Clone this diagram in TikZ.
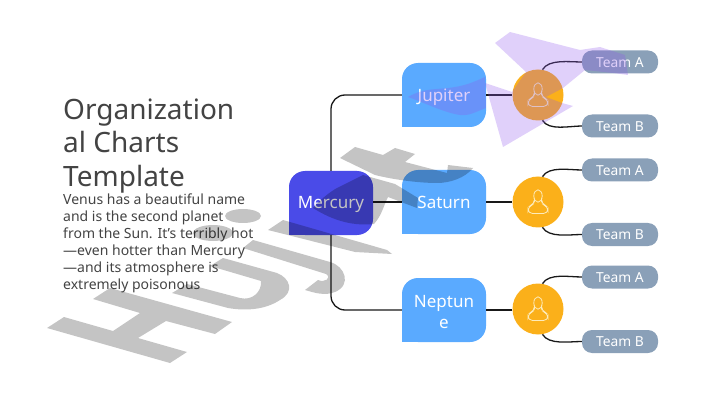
\documentclass[tikz,border=0pt]{standalone}
\usepackage{fontspec}
\setmainfont{Noto Sans}
\definecolor{txt}{HTML}{434343}
\definecolor{merc}{HTML}{4A4BE8}
\definecolor{planet}{HTML}{5AAAFF}
\definecolor{sun}{HTML}{FBB01A}
\definecolor{team}{HTML}{8AA0B8}
\definecolor{iconc}{HTML}{FDEBBB}
\definecolor{wmpurple}{RGB}{144,87,237}
\newcommand\lowered[2]{\raisebox{-#1pt}[0pt][0pt]{#2}}
\tikzset{
  box/.style={rectangle,rounded corners=16pt,minimum width=84pt,minimum height=64pt,inner sep=0pt,text=white,align=center,font=\fontsize{17}{21}\selectfont},
  topbox/.style={box,fill=merc},
  planetbox/.style={box,fill=planet},
  hub/.style={circle,fill=sun,minimum size=51pt,inner sep=0pt},
  teambox/.style={rectangle,rounded corners=10pt,fill=team,minimum width=76pt,minimum height=23pt,inner sep=0pt,text=white,font=\fontsize{13.8}{15}\selectfont},
  link/.style={line width=1.3pt,draw=black!90},
  usericon/.style={draw=iconc,line width=.8pt},
  grayink/.style={fill=black,fill opacity=.23},
  purpleink/.style={fill=wmpurple,fill opacity=.28}
}
\begin{document}
\begin{tikzpicture}[x=1pt,y=-1pt]
\useasboundingbox (0,0) rectangle (720,406);
\node[anchor=north west,inner sep=0pt,text=txt,align=left,font=\fontsize{28}{33.5}\selectfont] (title) at (63,98.5) {Organization\\al Charts\\Template};
\node[anchor=north west,inner sep=0pt,text=txt,align=left,font=\fontsize{14}{17}\selectfont] (body) at (63,194) {Venus has a beautiful name\\and is the second planet\\from the Sun. It’s terribly hot\\—even hotter than Mercury\\—and its atmosphere is\\extremely poisonous};
% boxes
\node[topbox] (m) at (331,203) {\lowered{6}{Mercury}};
\fill[merc] (m.south west) rectangle ++(16,-16);
\node[planetbox] (j) at (444,95) {\lowered{6.8}{Jupiter}};
\fill[planet] (j.south west) rectangle ++(16,-16);
\node[planetbox] (s) at (444,202) {\lowered{7}{Saturn}};
\fill[planet] (s.south west) rectangle ++(16,-16);
\node[planetbox] (n) at (444,310) {\rule{0pt}{16pt}Neptun\\e};
\fill[planet] (n.south west) rectangle ++(16,-16);
% hubs
\node[hub] (c1) at (538,95) {};
\node[hub] (c2) at (538,202) {};
\node[hub] (c3) at (538,309) {};
\foreach \c in {c1,c2,c3}{
  \begin{scope}[shift={(\c)}]
    \draw[usericon] (0,-6) ellipse (4.2 and 6.2);
    \draw[usericon,rounded corners=4.5pt] (-3.5,0.5) -- (-3.5,2) -- (-10,4.5) -- (-10,11.5) -- (10,11.5) -- (10,4.5) -- (3.5,2) -- (3.5,0.5);
  \end{scope}
}
% teams
\node[teambox] (a1) at (620,62) {\lowered{5.3}{Team A}};
\node[teambox] (b1) at (620,126) {\lowered{5.3}{Team B}};
\node[teambox] (a2) at (620,170) {\lowered{5.3}{Team A}};
\node[teambox] (b2) at (620,234.5) {\lowered{5.3}{Team B}};
\node[teambox] (a3) at (620,277) {\lowered{5.3}{Team A}};
\node[teambox] (b3) at (620,341.5) {\lowered{5.3}{Team B}};
% connectors
\draw[link,rounded corners=14pt] (m.north) |- (j.west);
\draw[link,rounded corners=14pt] (m.south) |- (n.west);
\draw[link] (m.east |- s.west) -- (s.west);
\draw[link] (j.east) -- (c1.west);
\draw[link] (s.east) -- (c2.west);
\draw[link] (n.east -| c3.west) -- (n.east);
\foreach \c/\ta/\tb in {c1/a1/b1,c2/a2/b2,c3/a3/b3}{
  \draw[link] (\c.80) to[out=60,in=180,looseness=.8] (\ta.west);
  \draw[link] (\c.-80) to[out=-60,in=180,looseness=.8] (\tb.west);
}
% watermark, gray
\fill[grayink]
  (93,299) -- (110,288) -- (232,322) -- (215,334) -- (166,321) -- (138,338) -- (187,352) -- (170,363) -- (47,328) -- (64,317) -- (113,331) -- (140,313) -- cycle
  (172,293) -- (187,284) -- (240,298) .. controls (252,301) and (262,292) .. (261,281) -- (210,266) -- (223,258) -- (277,273) .. controls (290,278) and (295,292) .. (280,300) .. controls (265,310) and (245,311) .. (228,308) -- cycle
  (213,233) ellipse (20 and 8)
  (243,216) ellipse (18 and 7)
  (243,248) -- (253,240) -- (330,262) .. controls (345,266) and (352,285) .. (335,292) .. controls (325,296) and (315,293) .. (305,290) -- (318,280) .. controls (325,283) and (332,278) .. (326,274) -- cycle
  (268,230) -- (283,220) -- (387,250) -- (392,254) -- (355,252) -- cycle
  (313,208) .. controls (322,198) and (330,192) .. (337,188) -- (363,175) -- (395,184) -- (418,198) -- (417,208) -- (388,197) .. controls (383,207) and (382,215) .. (374,224) .. controls (355,226) and (335,222) .. cycle
  (340,158) -- (355,147) -- (383,155) -- (395,148) -- (415,154) -- (405,162) -- (447,173) -- (448,165) -- (473,168) .. controls (465,178) and (450,183) .. (437,183) .. controls (420,183) and (395,180) .. (375,175) -- cycle;
% watermark, purple
\fill[purpleink]
  (495,43) -- (510,32) -- (580,50) -- (600,47) -- (625,55) -- (628,75) -- (613,73) -- (585,70) -- (563,88) -- (546,97) -- (562,103) -- (573,106) -- (503,147) -- (485,83) -- (512,92) -- (526,72) -- cycle
  (532,54) -- (557,67) -- (543,70) -- cycle
  (408,97) .. controls (425,87) and (440,90) .. (455,87) .. controls (468,85) and (478,80) .. (485,77) -- (486,108) .. controls (475,112) and (470,116) .. (460,115) .. controls (445,113) and (425,103) .. cycle;
\end{tikzpicture}
\end{document}
